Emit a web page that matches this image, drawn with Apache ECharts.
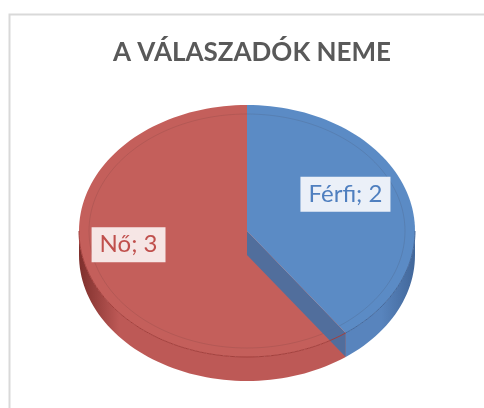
<!DOCTYPE html>
<html>
<head>
<meta charset="utf-8">
<script src="https://cdn.jsdelivr.net/npm/echarts@6/dist/echarts.min.js"></script>
<style>
  html, body { margin: 0; padding: 0; background: #ffffff; }
  #chart { width: 484px; height: 408px; }
</style>
</head>
<body>
<div id="chart"></div>
<script>
// Survey: respondents by gender
const categories = ['Férfi', 'Nő'];
const values = [2, 3];
const chartTitle = 'A VÁLASZADÓK NEME';

// Per-slice palette (top face, side wall light/dark, radial wall, label text/background)
const palette = [
  { top: '#5b8bc5', sideLight: '#5884bd', sideDark: '#42679a', wall: '#4c6e9f', rim: '#46699b', text: '#4f7fbf', box: 'rgba(246,248,252,0.93)' },
  { top: '#c45f5b', sideLight: '#bd5956', sideDark: '#7e2f2c', wall: '#a44643', rim: '#a3403d', text: '#c0504d', box: 'rgba(250,240,240,0.93)' }
];

// Ellipse geometry of the tilted disc
const geo = { cx: 247, cy: 231, rx: 168, ry: 126, depth: 24 };

const total = values.reduce((a, b) => a + b, 0);

function pt(theta, dy, shrinkX, shrinkY) {
  const r = theta * Math.PI / 180;
  return [
    geo.cx + (geo.rx - (shrinkX || 0)) * Math.sin(r),
    geo.cy - (geo.ry - (shrinkY || 0)) * Math.cos(r) + (dy || 0)
  ];
}

function arcPoints(a, b, dy, sx, sy) {
  const pts = [];
  const steps = Math.max(2, Math.ceil(Math.abs(b - a) / 2));
  for (let k = 0; k <= steps; k++) {
    pts.push(pt(a + (b - a) * k / steps, dy, sx, sy));
  }
  return pts;
}

function renderItem(params, api) {
  const i = params.dataIndex;
  const before = values.slice(0, i).reduce((a, b) => a + b, 0);
  const start = before / total * 360;
  const end = (before + values[i]) / total * 360;
  const pal = palette[i];
  const children = [];

  // front side wall (visible between 90° and 270°)
  const a = Math.max(start, 90), b = Math.min(end, 270);
  if (b > a) {
    const topArc = arcPoints(a, b, 0);
    const botArc = arcPoints(b, a, geo.depth);
    children.push({
      type: 'polygon', z2: 1,
      shape: { points: topArc.concat(botArc) },
      style: {
        fill: new echarts.graphic.LinearGradient(geo.cx - geo.rx, 0, geo.cx + geo.rx, 0, [
          { offset: 0, color: pal.sideDark },
          { offset: 0.12, color: pal.sideLight },
          { offset: 0.5, color: pal.sideLight },
          { offset: 0.9, color: pal.sideLight },
          { offset: 1, color: pal.sideDark }
        ], true)
      }
    });
    // rim line between top face and side wall
    children.push({
      type: 'polyline', z2: 5,
      shape: { points: topArc },
      style: { stroke: pal.rim, lineWidth: 1, fill: null }
    });
  }

  // top face
  children.push({
    type: 'polygon', z2: 2,
    shape: { points: [[geo.cx, geo.cy]].concat(arcPoints(start, end, 0)) },
    style: { fill: pal.top }
  });

  // faint bevel line inset from the rim
  children.push({
    type: 'polyline', z2: 3,
    shape: { points: arcPoints(start, end, 0, 10, 9) },
    style: { stroke: 'rgba(60,40,40,0.12)', lineWidth: 1, fill: null }
  });

  // radial walls facing the viewer
  const walls = [];
  if (Math.sin(end * Math.PI / 180) > 0.01) walls.push(end);
  if (Math.sin(start * Math.PI / 180) < -0.01) walls.push(start);
  walls.forEach(function (t) {
    const rim = pt(t, 0);
    children.push({
      type: 'polygon', z2: 4,
      shape: { points: [[geo.cx, geo.cy], rim, [rim[0], rim[1] + geo.depth], [geo.cx, geo.cy + geo.depth]] },
      style: { fill: pal.wall, opacity: 0.96 }
    });
  });

  // data label at the slice's mid angle
  const mid = (start + end) / 2;
  const lp = pt(mid, 0);
  const f = 0.66;
  const lx = geo.cx + (lp[0] - geo.cx) * f - (i === 0 ? 7 : 13);
  const ly = geo.cy + (lp[1] - geo.cy) * f - (i === 0 ? 11 : 12);
  children.push({
    type: 'text', z2: 10,
    x: lx, y: ly,
    style: {
      text: categories[i] + '; ' + values[i],
      fill: pal.text,
      font: '24px Lato',
      align: 'center',
      verticalAlign: 'middle',
      backgroundColor: pal.box,
      padding: [6, 8, 5, 8],
      boxShadowBlur: 6,
      boxShadowColor: 'rgba(0,0,0,0.28)',
      boxShadowOffsetX: 2,
      boxShadowOffsetY: 2
    }
  });

  return { type: 'group', children: children };
}

const chart = echarts.init(document.getElementById('chart'), null, { renderer: 'canvas' });
chart.setOption({
  animation: false,
  backgroundColor: '#ffffff',
  title: {
    text: chartTitle,
    left: 247,
    top: 35,
    textAlign: 'center',
    textStyle: { fontFamily: 'Lato', fontWeight: 'bold', fontSize: 26, color: '#595959' }
  },
  graphic: [{
    type: 'rect',
    left: 7, top: 12,
    shape: { width: 520, height: 440 },
    style: { fill: null, stroke: '#d9d9d9', lineWidth: 2 },
    silent: true
  }],
  series: [{
    type: 'custom',
    coordinateSystem: 'none',
    renderItem: renderItem,
    data: categories.map(function (c, k) { return { name: c, value: values[k] }; })
  }]
});
</script>
</body>
</html>
